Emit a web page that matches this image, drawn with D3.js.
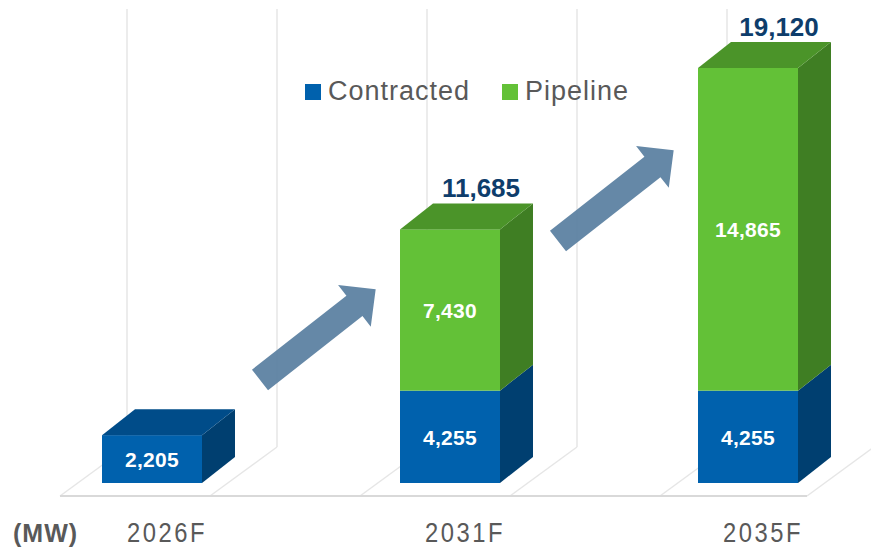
<!DOCTYPE html>
<html>
<head>
<meta charset="utf-8">
<script src="https://cdn.jsdelivr.net/npm/d3@7"></script>
<style>
  body { margin: 0; background: #fff; }
  svg { display: block; font-family: Arial, "Liberation Sans", sans-serif; }
</style>
</head>
<body>
<div id="chart"></div>
<script>
const categories = ['2026F', '2031F', '2035F'];
const contracted = [2205, 4255, 4255];
const pipeline = [0, 7430, 14865];
const totals = [null, 11685, 19120];
const seriesNames = ['Contracted', 'Pipeline'];
// arrows go from one year to the next, tail height given in MW
const arrows = [{ from: '2026F', at: 4750 }, { from: '2031F', at: 11150 }];

const width = 871, height = 549;
const colors = {
    Contracted: { front: '#0061ad', top: '#004c89', side: '#003f70' },
    Pipeline: { front: '#63c137', top: '#4b9429', side: '#3f7e23' }
};
const depth = { dx: 33, dy: -26 };
const barW = 100;

const svg = d3.select('#chart').append('svg')
    .attr('width', width)
    .attr('height', height);

const x = d3.scalePoint().domain(categories).range([152, 748]);
const y = d3.scaleLinear().domain([0, 19120]).range([483, 68]);

// back wall gridlines and floor
const floorFront = 496, floorBack = 447;
const fx = d3.scaleLinear().domain([0, 5]).range([60, 810]);
const fdx = 67;
const grid = svg.append('g');
grid.selectAll('line.wall')
    .data(d3.range(0, 5))
    .enter().append('line')
    .attr('x1', d => fx(d) + fdx).attr('x2', d => fx(d) + fdx)
    .attr('y1', 9).attr('y2', floorBack)
    .style('stroke', '#ececec').style('stroke-width', 2);
grid.selectAll('line.floor')
    .data(d3.range(0, 6))
    .enter().append('line')
    .attr('x1', d => fx(d) - (d == 5 ? 3 : 0)).attr('y1', floorFront)
    .attr('x2', d => fx(d) + fdx - (d == 5 ? 3 : 0)).attr('y2', floorBack)
    .style('stroke', '#e6e6e6').style('stroke-width', 1.5);
grid.append('line')
    .attr('x1', fx(0)).attr('x2', fx(5) - 3)
    .attr('y1', floorFront).attr('y2', floorFront)
    .style('stroke', '#d9d9d9').style('stroke-width', 2);

// stacked 3d bars
const segs = [];
categories.forEach((c, i) => {
    const vals = [contracted[i], pipeline[i]];
    let base = 0;
    vals.forEach((v, k) => {
        if (v > 0) segs.push({ cat: c, series: seriesNames[k], y0: base, y1: base + v, value: v, top: base + v == contracted[i] + pipeline[i] });
        base += v;
    });
});

const bars = svg.append('g');
const seg = bars.selectAll('g')
    .data(segs)
    .enter().append('g');

seg.append('rect')
    .attr('x', d => x(d.cat) - barW / 2)
    .attr('y', d => y(d.y1))
    .attr('width', barW)
    .attr('height', d => y(d.y0) - y(d.y1))
    .style('fill', d => colors[d.series].front);

seg.append('path')
    .attr('d', d => {
        const x0 = x(d.cat) + barW / 2;
        return `M${x0},${y(d.y1)}L${x0 + depth.dx},${y(d.y1) + depth.dy}L${x0 + depth.dx},${y(d.y0) + depth.dy}L${x0},${y(d.y0)}Z`;
    })
    .style('fill', d => colors[d.series].side);

seg.filter(d => d.top).append('path')
    .attr('d', d => {
        const x0 = x(d.cat) - barW / 2, yt = y(d.y1);
        return `M${x0},${yt}L${x0 + depth.dx},${yt + depth.dy}L${x0 + barW + depth.dx},${yt + depth.dy}L${x0 + barW},${yt}Z`;
    })
    .style('fill', d => colors[d.series].top);

seg.append('text')
    .attr('x', d => x(d.cat))
    .attr('y', d => (y(d.y0) + y(d.y1)) / 2 + 8)
    .attr('text-anchor', 'middle')
    .style('fill', '#fff')
    .style('font-weight', 'bold')
    .style('font-size', '21px')
    .style('letter-spacing', '0.3px')
    .text(d => d3.format(',')(d.value));

// totals above the stacks
svg.append('g').selectAll('text')
    .data(categories.map((c, i) => ({ cat: c, total: totals[i], sum: contracted[i] + pipeline[i] })).filter(d => d.total))
    .enter().append('text')
    .attr('x', d => x(d.cat) + depth.dx - 2)
    .attr('y', d => y(d.sum) + depth.dy - 6)
    .attr('text-anchor', 'middle')
    .style('fill', '#0e3d6b')
    .style('font-weight', 'bold')
    .style('font-size', '26px')
    .text(d => d3.format(',')(d.total));

// growth arrows
const arrowPath = d3.line()([[0, -13], [120, -13], [120, -26.5], [147, 0], [120, 26.5], [120, 13], [0, 13]]);
svg.append('g').selectAll('path')
    .data(arrows)
    .enter().append('path')
    .attr('d', arrowPath + 'Z')
    .attr('transform', d => `translate(${x(d.from) + 108}, ${y(d.at)}) rotate(-38.1)`)
    .style('fill', '#587e9f')
    .style('opacity', 0.92);

// category labels
svg.append('g').selectAll('text')
    .data(categories)
    .enter().append('text')
    .attr('transform', d => `translate(${x(d) + 15}, 542) scale(0.85, 1)`)
    .attr('text-anchor', 'middle')
    .style('fill', '#595959')
    .style('font-size', '28px')
    .style('letter-spacing', '3px')
    .text(d => d);

svg.append('text')
    .attr('x', 13).attr('y', 542)
    .style('fill', '#595959')
    .style('font-weight', 'bold')
    .style('font-size', '25px')
    .style('letter-spacing', '1px')
    .text('(MW)');

// legend
const legend = svg.append('g').selectAll('g')
    .data(seriesNames)
    .enter().append('g')
    .attr('transform', (d, i) => `translate(${i == 0 ? 305 : 502}, 84)`);
legend.append('rect')
    .attr('width', 16).attr('height', 16)
    .style('fill', d => colors[d].front);
legend.append('text')
    .attr('x', 23).attr('y', 16)
    .style('fill', '#595959')
    .style('font-size', '27px')
    .style('letter-spacing', '1px')
    .text(d => d);
</script>
</body>
</html>
